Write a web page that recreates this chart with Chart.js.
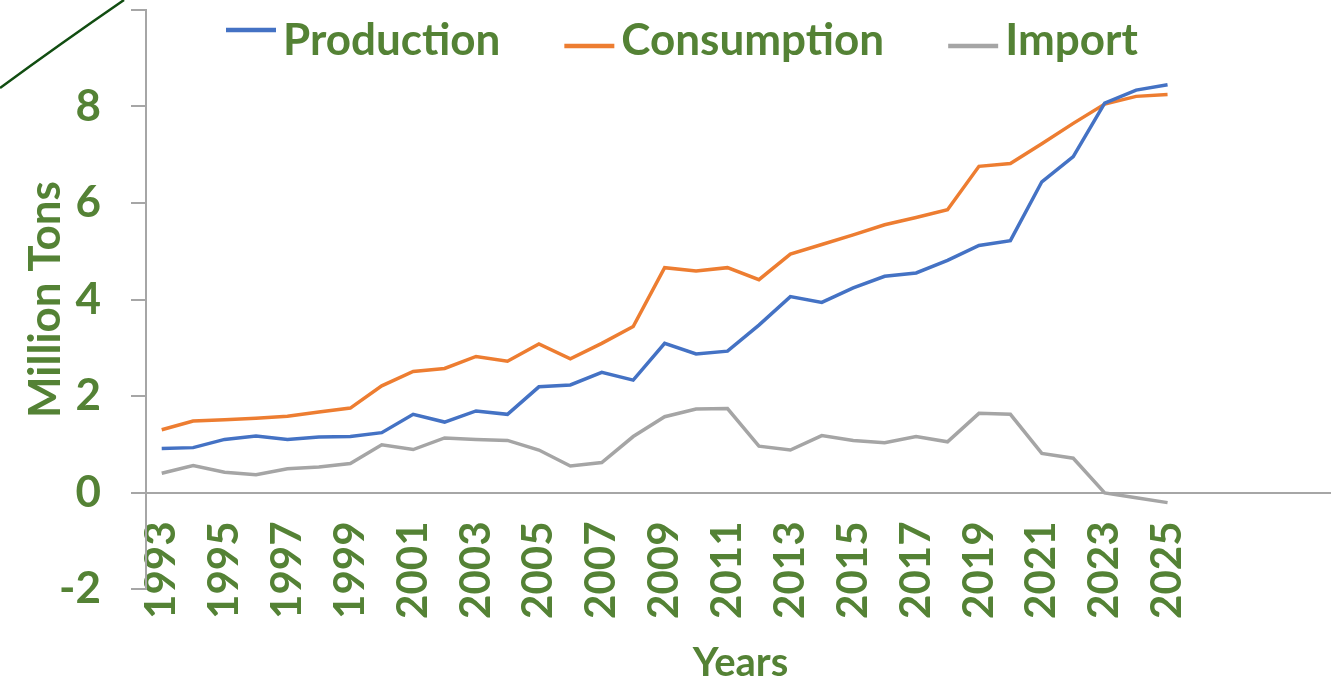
<!DOCTYPE html>
<html>
<head>
<meta charset="utf-8">
<script src="https://cdn.jsdelivr.net/npm/chart.js@4.4.1/dist/chart.umd.min.js"></script>
<style>
  html, body { margin: 0; padding: 0; background: #fff; }
  #wrap { width: 1331px; height: 684px; }
</style>
</head>
<body>
<div id="wrap"><canvas id="chart" width="1331" height="684"></canvas></div>
<script>
const years = [1993, 1994, 1995, 1996, 1997, 1998, 1999, 2000, 2001, 2002, 2003,
               2004, 2005, 2006, 2007, 2008, 2009, 2010, 2011, 2012, 2013, 2014,
               2015, 2016, 2017, 2018, 2019, 2020, 2021, 2022, 2023, 2024, 2025];

const production = [0.91, 0.93, 1.10, 1.17, 1.10, 1.15, 1.16, 1.24, 1.62, 1.46, 1.69,
                    1.62, 2.19, 2.23, 2.49, 2.33, 3.09, 2.87, 2.93, 3.47, 4.06, 3.94,
                    4.24, 4.48, 4.55, 4.81, 5.12, 5.22, 6.44, 6.96, 8.07, 8.34, 8.45];

const consumption = [1.30, 1.48, 1.51, 1.54, 1.58, 1.67, 1.75, 2.21, 2.51, 2.57, 2.82,
                     2.72, 3.08, 2.77, 3.09, 3.44, 4.66, 4.59, 4.66, 4.41, 4.94, 5.14,
                     5.34, 5.55, 5.70, 5.86, 6.76, 6.82, 7.23, 7.65, 8.05, 8.21, 8.25];

const imports = [0.40, 0.56, 0.42, 0.37, 0.49, 0.53, 0.60, 0.99, 0.89, 1.13, 1.10,
                 1.08, 0.88, 0.55, 0.62, 1.16, 1.57, 1.73, 1.74, 0.96, 0.88, 1.18,
                 1.08, 1.03, 1.16, 1.05, 1.64, 1.62, 0.81, 0.71, -0.01, -0.11, -0.21];

const xTickYears = [1993, 1995, 1997, 1999, 2001, 2003, 2005, 2007, 2009,
                    2011, 2013, 2015, 2017, 2019, 2021, 2023, 2025];
const yTickValues = [-2, 0, 2, 4, 6, 8, 10];
const yTickLabels = ["-2", "0", "2", "4", "6", "8", ""];

const GREEN = "#548235";
const AXIS = "#A6A6A6";
const FONT = "Lato, 'Open Sans', sans-serif";

// Excel-like legend drawn inside the plot, plus the x axis title
const overlay = {
    id: "overlay",
    afterDraw(chart) {
        const c = chart.ctx;
        const area = chart.chartArea;
        c.save();

        // legend
        c.font = "bold 44px " + FONT;
        c.textBaseline = "alphabetic";
        c.textAlign = "left";
        let x = 226;
        chart.data.datasets.forEach((ds, i) => {
            const lineY = i === 0 ? 30 : 46;
            c.strokeStyle = ds.borderColor;
            c.lineWidth = 4.5;
            c.beginPath();
            c.moveTo(x, lineY);
            c.lineTo(x + 50, lineY);
            c.stroke();
            c.fillStyle = GREEN;
            c.fillText(ds.label, x + 57, 55);
            x += 57 + c.measureText(ds.label).width + 64;
        });

        // x axis title
        c.font = "bold 40px " + FONT;
        c.textAlign = "center";
        c.fillText("Years", (area.left + area.right) / 2 + 2, 676);

        // dark green stroke in the top-left corner
        c.strokeStyle = "#114d11";
        c.lineWidth = 2.5;
        c.beginPath();
        c.moveTo(0, 88);
        c.quadraticCurveTo(60, 44, 124, 0);
        c.stroke();
        c.restore();
    }
};

const ctx = document.getElementById("chart").getContext("2d");

new Chart(ctx, {
    type: "line",
    data: {
        labels: years,
        datasets: [
            { label: "Production", data: production, borderColor: "#4472C4", borderWidth: 3.5 },
            { label: "Consumption", data: consumption, borderColor: "#ED7D31", borderWidth: 3.5 },
            { label: "Import", data: imports, borderColor: "#A5A5A5", borderWidth: 3.5 }
        ]
    },
    options: {
        responsive: false,
        animation: false,
        layout: { padding: { top: 10, bottom: 95, left: 0, right: 0 } },
        elements: {
            line: { tension: 0 },
            point: { radius: 0, hoverRadius: 0 }
        },
        plugins: {
            tooltip: { enabled: false },
            legend: { display: false }
        },
        scales: {
            x: {
                type: "linear",
                position: { y: 0 },
                min: 1992.5,
                max: 2030.2,
                afterBuildTicks: s => { s.ticks = xTickYears.map(v => ({ value: v })); },
                afterFit: s => { s.paddingLeft = 0; s.paddingRight = 0; },
                ticks: {
                    minRotation: 90,
                    maxRotation: 90,
                    padding: 29,
                    color: GREEN,
                    font: { family: FONT, size: 42, weight: "bold" },
                    callback: v => String(v)
                },
                grid: { drawOnChartArea: false, drawTicks: false },
                border: { color: AXIS, width: 2 }
            },
            y: {
                position: "left",
                min: -2,
                max: 10,
                afterBuildTicks: s => { s.ticks = yTickValues.map(v => ({ value: v })); },
                afterFit: s => { s.width = 146; s.paddingTop = 0; s.paddingBottom = 0; },
                ticks: {
                    padding: 30,
                    color: GREEN,
                    font: { family: FONT, size: 44, weight: "bold" },
                    callback: (v, i) => yTickLabels[i]
                },
                grid: { drawOnChartArea: false, drawTicks: true, tickLength: 15, color: AXIS, lineWidth: 2 },
                border: { color: AXIS, width: 2 },
                title: {
                    display: true,
                    text: "Million Tons",
                    color: GREEN,
                    font: { family: FONT, size: 44, weight: "bold" },
                    padding: { top: 19, bottom: 0 }
                }
            }
        }
    },
    plugins: [overlay]
});
</script>
</body>
</html>
